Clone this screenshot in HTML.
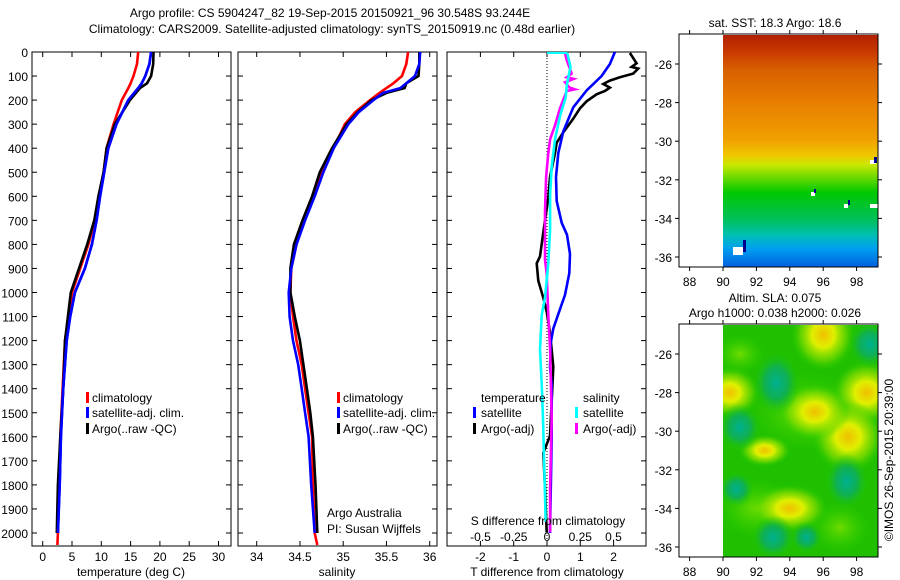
<!DOCTYPE html>
<html><head><meta charset="utf-8"><style>
body{margin:0;background:#fff}
svg{display:block;font-family:"Liberation Sans",sans-serif;font-size:12px}
</style></head><body>
<svg id="s" width="900" height="580" xmlns="http://www.w3.org/2000/svg">
<defs>
<linearGradient id="sstg" x1="0" y1="0" x2="0" y2="1">
<stop offset="0" stop-color="#b02000"/><stop offset="0.07" stop-color="#c83800"/>
<stop offset="0.15" stop-color="#d86000"/><stop offset="0.3" stop-color="#e88000"/>
<stop offset="0.45" stop-color="#f0a000"/><stop offset="0.52" stop-color="#f0c800"/>
<stop offset="0.56" stop-color="#c8e800"/><stop offset="0.62" stop-color="#60d800"/>
<stop offset="0.68" stop-color="#00c800"/><stop offset="0.8" stop-color="#00c060"/>
<stop offset="0.86" stop-color="#00c0b0"/><stop offset="0.92" stop-color="#00a0f0"/>
<stop offset="1" stop-color="#0060e0"/>
</linearGradient>
<radialGradient id="yb"><stop offset="0" stop-color="#f0c000"/><stop offset="0.35" stop-color="#e0f000"/><stop offset="0.7" stop-color="#90e000" stop-opacity="0.6"/><stop offset="1" stop-color="#30d000" stop-opacity="0"/></radialGradient>
<radialGradient id="lb"><stop offset="0" stop-color="#70dc00"/><stop offset="1" stop-color="#30d000" stop-opacity="0"/></radialGradient>
<radialGradient id="tb"><stop offset="0" stop-color="#00b090"/><stop offset="0.5" stop-color="#10b050"/><stop offset="1" stop-color="#20c800" stop-opacity="0"/></radialGradient>
</defs>
<text x="330" y="17" text-anchor="middle">Argo profile: CS 5904247_82 19-Sep-2015 20150921_96 30.548S 93.244E</text>
<text x="332" y="33" text-anchor="middle">Climatology: CARS2009. Satellite-adjusted climatology: synTS_20150919.nc (0.48d earlier)</text>
<g id="g"></g>
</svg>
<script>
// depth levels (m)
const tDepth=[0,50,100,130,150,200,300,400,500,600,700,800,900,1000,1100,1200,1400,1600,1800,2000,2050];
const tClim=[16.3,16.1,15.5,15.0,14.6,13.5,12.1,10.9,10.4,9.6,8.9,7.8,6.4,5.0,4.4,3.8,3.4,3.0,2.8,2.6,2.5];
const tSat=[18.5,18.2,17.5,16.9,16.3,14.6,12.6,11.2,10.5,9.8,9.2,8.4,7.2,5.5,4.7,4.1,3.5,3.1,2.9,2.6,null];
const tArgo=[18.9,18.85,18.5,17.8,16.6,14.9,12.3,10.9,10.4,9.5,8.8,7.6,6.2,4.8,4.3,3.8,3.5,3.0,2.6,2.4,null];
const sDepth=[0,50,100,130,150,170,200,250,300,400,500,600,700,800,900,1000,1100,1200,1300,1400,1500,1600,1800,2000,2050];
const sClim=[35.75,35.73,35.68,35.58,35.5,35.42,35.31,35.14,35.02,34.89,34.75,34.65,34.54,34.46,34.40,34.39,34.42,34.46,34.52,34.56,34.60,34.64,34.65,34.67,34.70];
const sSat=[35.89,35.88,35.83,35.73,35.66,35.46,35.35,35.18,35.06,34.89,34.77,34.67,34.56,34.46,34.40,34.37,34.38,34.42,34.48,34.52,34.56,34.60,34.63,34.67,null];
const sArgo=[35.88,35.88,35.87,35.73,35.71,35.5,35.33,35.17,35.04,34.87,34.73,34.64,34.53,34.43,34.39,34.39,34.44,34.50,34.54,34.58,34.62,34.65,34.68,34.70,null];
const dtSatDepth=[0,50,100,160,230,280,330,420,520,620,710,760,840,920,1010,1090,1150,1210,1310,1380,1600,2000];
const dTSat=[2.04,1.89,1.64,1.19,0.79,0.64,0.49,0.34,0.27,0.29,0.44,0.6,0.69,0.67,0.54,0.34,0.19,0.11,0.09,0.14,0.14,0.09];
const dtArgoDepth=[4,47,62,69,90,105,119,133,148,162,176,205,234,277,334,377,420,520,606,750,850,879,951,1022,1080,1166,1309,1452,1596,1667,1810,1997];
const dTArgo=[2.49,2.69,2.54,2.74,2.59,2.19,1.89,1.69,1.89,1.74,1.49,1.19,0.99,0.79,0.49,0.29,0.24,0.09,0.04,-0.11,-0.21,-0.31,-0.26,-0.11,-0.01,0.09,0.19,0.14,0.09,-0.11,-0.06,-0.01];
const dsSatDepth=[4,62,133,191,262,363,477,592,735,879,1022,1094,1237,1381,1524,1954];
const dSSat=[0.152,0.177,0.15,0.14,0.1,0.06,0.035,0.023,0.023,0.01,-0.015,-0.04,-0.053,-0.04,-0.03,-0.01];
const dsArgoDepth=[4,33,90,105,112,126,148,155,162,234,305,363,420,520,664,864,922,1094,1237,1524,1810,1997];
const dSArgo=[0.135,0.148,0.185,0.148,0.2,0.135,0.17,0.21,0.148,0.098,0.06,0.023,0.01,-0.007,-0.015,-0.015,-0.002,0.01,0.023,0.035,0.023,0.023];
const depthTicks=[0,100,200,300,400,500,600,700,800,900,1000,1100,1200,1300,1400,1500,1600,1700,1800,1900,2000];
const tTicks=[0,5,10,15,20,25,30];
const sTicks=[34,34.5,35,35.5,36];
const dtTicks=[-2,-1,0,1,2];
const dsTicks=[-0.5,-0.25,0,0.25,0.5];
const lonTicks=[88,90,92,94,96,98];
const latTicks=[-26,-28,-30,-32,-34,-36];

const NS="http://www.w3.org/2000/svg",G=document.getElementById('g');
function el(t,a,p){const e=document.createElementNS(NS,t);for(const k in a)e.setAttribute(k,a[k]);(p||G).appendChild(e);return e;}
const Y=d=>52+d*0.2405;
const xT=v=>42.7+5.86*v, xS=v=>256.7+86.5*(v-34), xD=v=>547+33.3*v, xDS=v=>547+133*v;
const yTop=52,yBot=546;
function frame(x0,x1,name){
  const r=el('rect',{x:x0,y:yTop,width:x1-x0,height:yBot-yTop,fill:'none',stroke:'#000'});
  
  
  depthTicks.forEach(d=>{el('line',{x1:x0,x2:x0+5,y1:Y(d),y2:Y(d),stroke:'#000'});el('line',{x1:x1,x2:x1-5,y1:Y(d),y2:Y(d),stroke:'#000'});});
}
function xt(ticks,f,y){ticks.forEach(v=>{const x=f(v);el('line',{x1:x,x2:x,y1:yBot,y2:yBot-5,stroke:'#000'});el('line',{x1:x,x2:x,y1:yTop,y2:yTop+5,stroke:'#000'});const t=el('text',{x:x,y:y,'text-anchor':'middle'});t.textContent=v;});}
function line(xs,ds,f,col,name){let p='';xs.forEach((v,i)=>{if(v===null)return;p+=(p?'L':'M')+f(v).toFixed(1)+','+Y(ds[i]).toFixed(1);});
  const e=el('path',{d:p,fill:'none',stroke:col,'stroke-width':2.6,'stroke-linejoin':'miter'});
  
  }
function txt(x,y,s,name,anchor){const t=el('text',{x:x,y:y,'text-anchor':anchor||'start'});t.textContent=s;
  
  return t;}
function legmark(x,y,col){el('rect',{x:x,y:y-10,width:3,height:11,fill:col});}

// panel 1
frame(32,231,'temperature-panel');
depthTicks.forEach(d=>{const t=el('text',{x:28,y:Y(d)+5,'text-anchor':'end'});t.textContent=d;});
xt(tTicks,xT,561);
txt(131,576,'temperature (deg C)','x-axis-title-temperature','middle');
line(tClim,tDepth,xT,'#f00','series-t-climatology');
line(tSat,tDepth,xT,'#00f','series-t-satellite');
line(tArgo,tDepth,xT,'#000','series-t-argo');
line(tSat,tDepth,xT,'#00f','series-t-satellite-front');
legmark(86,402,'#f00');txt(92,402,'climatology','legend-climatology');
legmark(86,417,'#00f');txt(92,417,'satellite-adj. clim.','legend-satellite');
legmark(86,433,'#000');txt(92,433,'Argo(..raw -QC)','legend-argo');

// panel 2
frame(238,437,'salinity-panel');
xt(sTicks,xS,561);
txt(337,576,'salinity','x-axis-title-salinity','middle');
line(sClim,sDepth,xS,'#f00','series-s-climatology');
line(sArgo,sDepth,xS,'#000','series-s-argo');
line(sSat,sDepth,xS,'#00f','series-s-satellite');
legmark(337,402,'#f00');txt(343,402,'climatology','legend-climatology-2');
legmark(337,417,'#00f');txt(343,417,'satellite-adj. clim.','legend-satellite-2');
legmark(337,433,'#000');txt(343,433,'Argo(..raw -QC)','legend-argo-2');
txt(327,517,'Argo Australia','credit-argo-australia');
txt(327,533,'PI: Susan Wijffels','credit-pi');

// panel 3
frame(447,646,'difference-panel');
xt(dtTicks,xD,561);
el('line',{x1:547,x2:547,y1:yTop,y2:yBot,stroke:'#000','stroke-dasharray':'1,2'});
txt(547,576,'T difference from climatology','x-axis-title-t-diff','middle');
line(dTArgo,dtArgoDepth,xD,'#000','series-dt-argo');
line(dTSat,dtSatDepth,xD,'#00f','series-dt-satellite');
line(dSArgo,dsArgoDepth,xDS,'#f0f','series-ds-argo');
line(dSSat,dsSatDepth,xDS,'#0ff','series-ds-satellite');
el('line',{x1:547,x2:xDS(dSSat[0]),y1:53,y2:53,stroke:'#0ff','stroke-width':2});
dsTicks.forEach(v=>{const t=el('text',{x:xDS(v),y:541,'text-anchor':'middle'});t.textContent=v;});
txt(548,525,'S difference from climatology','s-diff-axis-title','middle');
txt(481,402,'temperature','legend-title-temperature');
txt(583,402,'salinity','legend-title-salinity');
legmark(473,417,'#00f');txt(481,417,'satellite','legend-dt-satellite');
legmark(473,433,'#000');txt(481,433,'Argo(-adj)','legend-dt-argo');
legmark(575,417,'#0ff');txt(583,417,'satellite','legend-ds-satellite');
legmark(575,433,'#f0f');txt(583,433,'Argo(-adj)','legend-ds-argo');

// maps
const lx=v=>723+(v-90)*16.7;
function mapAxes(y0,y1,name){
  const ly=v=>(y0+30)+(-26-v)*19.3;
  const r=el('rect',{x:679,y:y0,width:199,height:y1-y0,fill:'none',stroke:'#000'});
  
  
  lonTicks.forEach(v=>{const x=lx(v);el('line',{x1:x,x2:x,y1:y1,y2:y1+4,stroke:'#000'});el('line',{x1:x,x2:x,y1:y0,y2:y0-4,stroke:'#000'});const t=el('text',{x:x,y:y1+19,'text-anchor':'middle'});t.textContent=v;});
  latTicks.forEach(v=>{const y=ly(v);el('line',{x1:679,x2:675,y1:y,y2:y,stroke:'#000'});el('line',{x1:878,x2:882,y1:y,y2:y,stroke:'#000'});const t=el('text',{x:672,y:y+5,'text-anchor':'end'});t.textContent=v;});
  return ly;
}
// SST map
const m1=el('rect',{x:723,y:35,width:155,height:232,fill:'url(#sstg)'});


[[733,247,10,8],[811,192,4,4],[870,160,6,4],[844,204,4,4],[870,204,8,4]].forEach(a=>el('rect',{x:a[0],y:a[1],width:a[2],height:a[3],fill:'#fff'}));
[[743,240,3,12],[814,189,2,4],[848,200,2,5],[874,157,3,6]].forEach(a=>el('rect',{x:a[0],y:a[1],width:a[2],height:a[3],fill:'#000090'}));
mapAxes(34,267,'sst-map');
txt(775,27,'sat. SST: 18.3 Argo: 18.6','sst-map-title','middle');
// SLA map
const m2=el('rect',{x:723,y:325,width:155,height:232,fill:'#20c000'});


const cl=el('clipPath',{id:'mc'});el('rect',{x:723,y:325,width:155,height:232},cl);
const gb=el('g',{'clip-path':'url(#mc)'});
const ly2=v=>(324+30)+(-26-v)*19.3;
[[95,-29,60,40,'lb'],[92,-34,40,30,'lb'],[97,-35,30,25,'lb'],[91,-26,25,20,'lb'],
 [96,-25,32,36,'yb'],[98.6,-28,34,32,'yb'],[90.4,-28,30,26,'yb'],[97.5,-30.3,36,36,'yb'],[94,-34,38,24,'yb'],[95.5,-29,36,28,'yb'],[92.5,-31,26,16,'yb'],
 [93.2,-27.5,24,32,'tb'],[91,-29.8,22,24,'tb'],[97.4,-32.6,22,28,'tb'],[98.8,-25.5,22,24,'tb'],[93,-35.5,22,22,'tb'],[90.8,-33,18,18,'tb'],[95,-35.5,16,16,'tb']].forEach(b=>{
  el('ellipse',{cx:lx(b[0]),cy:ly2(b[1]),rx:b[2],ry:b[3],fill:'url(#'+b[4]+')'},gb);});
mapAxes(324,557,'sla-map');
txt(775,302,'Altim. SLA: 0.075','sla-map-title','middle');
txt(775,317,'Argo h1000: 0.038 h2000: 0.026','sla-map-subtitle','middle');
const c=txt(0,0,'©IMOS 26-Sep-2015 20:39:00','imos-credit','middle');
c.setAttribute('transform','translate(893,460) rotate(-90)');
</script>
</body></html>
